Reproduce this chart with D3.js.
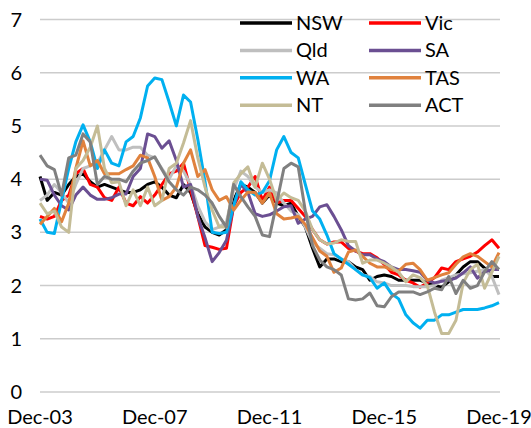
<!DOCTYPE html>
<html>
<head>
<meta charset="utf-8">
<script src="https://cdn.jsdelivr.net/npm/d3@7"></script>
<style>
  body { margin: 0; background: #fff; }
  text { font-family: Lato, "Liberation Sans", sans-serif; fill: #000; }
</style>
</head>
<body>
<svg id="chart" width="531" height="428"></svg>
<script>
// quarterly, Dec-03 .. Dec-19
const quarters = d3.timeMonth.range(new Date(2003, 11, 1), new Date(2020, 0, 1), 3)
const tickLabels = ['Dec-03', 'Dec-07', 'Dec-11', 'Dec-15', 'Dec-19']
const yTicks = [0, 1, 2, 3, 4, 5, 6, 7]

const NSW = [4.05, 3.6, 3.75, 3.7, 3.9, 4.05, 4.1, 3.95, 3.85, 3.9, 3.85, 3.8, 3.75, 3.75, 3.8, 3.9, 3.95, 3.85, 3.7, 3.65, 3.9, 3.75, 3.35, 3.1, 3.0, 2.95, 3.05, 3.6, 3.9, 3.85, 3.75, 3.55, 3.7, 3.55, 3.5, 3.55, 3.3, 3.1, 2.7, 2.35, 2.5, 2.5, 2.45, 2.45, 2.35, 2.3, 2.1, 2.17, 2.2, 2.17, 2.1, 2.1, 2.1, 2.1, 2.05, 2.0, 1.97, 2.07, 2.2, 2.35, 2.45, 2.45, 2.33, 2.17, 2.17]
const Vic = [3.3, 3.25, 3.3, 3.6, 3.7, 4.1, 4.2, 3.9, 3.85, 3.65, 3.6, 3.85, 3.55, 3.5, 3.67, 3.55, 3.7, 3.9, 4.1, 4.15, 4.3, 3.8, 3.3, 2.75, 2.72, 2.68, 2.7, 3.5, 3.75, 3.85, 4.05, 3.6, 3.85, 3.55, 3.6, 3.6, 3.45, 3.3, 3.05, 2.86, 2.78, 2.82, 2.82, 2.7, 2.65, 2.6, 2.6, 2.52, 2.4, 2.25, 2.2, 2.1, 2.05, 1.97, 2.05, 2.15, 2.33, 2.3, 2.45, 2.5, 2.55, 2.63, 2.75, 2.86, 2.7]
const Qld = [3.6, 3.7, 3.9, 3.75, 3.55, 3.9, 4.2, 4.25, 4.3, 4.55, 4.8, 4.55, 4.55, 4.6, 4.6, 4.45, 4.4, 4.2, 4.0, 4.25, 4.15, 3.9, 3.5, 3.2, 3.05, 3.1, 3.2, 3.8, 4.15, 4.05, 3.85, 3.75, 3.8, 3.74, 3.55, 3.4, 3.33, 3.1, 2.8, 2.7, 2.6, 2.58, 2.5, 2.45, 2.3, 2.2, 2.17, 2.07, 2.05, 2.0, 2.0, 2.0, 1.98, 1.98, 1.98, 2.0, 2.1, 2.15, 2.2, 2.22, 2.24, 2.27, 2.3, 2.17, 1.83]
const SA = [4.0, 3.98, 3.7, 3.5, 3.42, 3.7, 3.85, 3.7, 3.62, 3.62, 3.65, 3.72, 3.72, 4.05, 4.2, 4.85, 4.8, 4.58, 4.72, 4.35, 3.85, 3.9, 3.3, 2.9, 2.45, 2.62, 2.85, 3.5, 3.9, 3.75, 3.35, 3.3, 3.33, 3.4, 3.48, 3.5, 3.17, 3.25, 3.3, 3.48, 3.52, 3.3, 3.05, 2.75, 2.65, 2.58, 2.58, 2.5, 2.45, 2.35, 2.3, 2.3, 2.28, 2.25, 2.1, 2.05, 2.08, 2.1, 2.14, 2.24, 2.35, 2.14, 2.26, 2.3, 2.3]
const WA = [3.25, 3.0, 2.98, 3.6, 4.2, 4.7, 5.02, 4.7, 4.2, 4.55, 4.3, 4.25, 4.7, 4.8, 5.15, 5.75, 5.9, 5.87, 5.45, 5.0, 5.58, 5.45, 4.75, 3.95, 3.0, 2.98, 3.0, 3.5, 3.95, 3.8, 3.7, 3.75, 3.97, 4.55, 4.8, 4.5, 4.4, 3.9, 3.4, 3.25, 2.95, 2.6, 2.5, 2.4, 2.3, 2.2, 2.15, 1.95, 2.05, 1.85, 1.75, 1.45, 1.3, 1.2, 1.35, 1.35, 1.45, 1.45, 1.5, 1.55, 1.55, 1.55, 1.58, 1.62, 1.68]
const TAS = [3.15, 3.3, 3.45, 3.2, 3.55, 4.2, 4.72, 4.25, 4.35, 4.1, 4.1, 4.1, 4.18, 4.25, 4.45, 4.4, 4.05, 3.6, 3.67, 3.85, 4.3, 4.55, 4.05, 4.18, 3.8, 3.6, 3.67, 3.42, 3.6, 3.76, 3.75, 3.55, 3.74, 3.35, 3.25, 3.27, 3.3, 3.15, 2.9, 2.65, 2.55, 2.25, 2.33, 2.63, 2.67, 2.55, 2.42, 2.35, 2.35, 2.3, 2.27, 2.4, 2.42, 2.3, 2.1, 2.15, 2.2, 2.24, 2.4, 2.54, 2.6, 2.55, 2.45, 2.35, 2.62]
const NT = [3.55, 3.35, 3.4, 3.1, 3.0, 4.2, 4.35, 4.6, 5.0, 4.2, 3.93, 3.95, 3.5, 3.8, 3.5, 3.85, 3.5, 3.6, 4.2, 4.3, 4.68, 5.1, 4.4, 3.85, 3.42, 3.1, 3.1, 3.93, 4.1, 4.23, 3.85, 4.3, 4.0, 3.6, 3.74, 3.65, 3.6, 3.4, 3.05, 2.86, 2.78, 2.8, 2.86, 2.83, 2.83, 2.42, 2.48, 2.48, 2.42, 2.35, 2.25, 2.07, 2.2, 2.15, 2.0, 1.5, 1.1, 1.1, 1.35, 2.05, 2.3, 2.4, 1.95, 2.25, 2.55]
const ACT = [4.45, 4.25, 4.18, 3.7, 4.4, 4.45, 4.85, 4.7, 3.9, 4.05, 4.0, 4.0, 3.95, 4.15, 4.3, 4.35, 4.42, 4.18, 3.95, 3.8, 3.7, 3.85, 3.8, 3.7, 3.55, 3.3, 3.1, 3.9, 3.67, 3.48, 3.3, 2.95, 2.92, 3.55, 4.2, 4.3, 4.23, 3.4, 2.75, 2.48, 2.35, 2.3, 2.2, 1.75, 1.73, 1.75, 1.86, 1.62, 1.6, 1.79, 1.88, 1.88, 1.88, 1.83, 1.88, 1.95, 1.92, 2.17, 1.85, 2.1, 1.95, 2.0, 2.26, 2.45, 2.3]

const seriesNames = ['NSW', 'Vic', 'Qld', 'SA', 'WA', 'TAS', 'NT', 'ACT']
const seriesValues = [NSW, Vic, Qld, SA, WA, TAS, NT, ACT]
const seriesColors = ['#000000', '#ff0000', '#bfbfbf', '#6b4f92', '#00b0f0', '#e0823d', '#c4bc96', '#808080']

const svg = d3.select('#chart')
const x = d3.scaleTime().domain([quarters[0], quarters[quarters.length - 1]]).range([40, 499])
const y = d3.scaleLinear().domain([0, 7]).range([392, 19.5])

// grid
svg.append('g').selectAll('line').data(yTicks).join('line')
	.attr('x1', 40).attr('x2', 500)
	.attr('y1', d => y(d)).attr('y2', d => y(d))
	.attr('stroke', '#cccccc').attr('stroke-width', 1.5)

// y labels
svg.append('g').selectAll('text').data(yTicks).join('text')
	.attr('x', 22).attr('y', d => y(d)).attr('dy', '0.35em')
	.attr('text-anchor', 'end').attr('font-size', 20)
	.text(d => d)

// x labels
const tickDates = tickLabels.map(s => d3.timeParse('%b-%y')(s))
svg.append('g').selectAll('text').data(tickLabels).join('text')
	.attr('x', (d, i) => x(tickDates[i])).attr('y', 424)
	.attr('text-anchor', 'middle').attr('font-size', 20)
	.text(d => d)

// lines
const line = d3.line().x((d, i) => x(quarters[i])).y(d => y(d))
svg.append('g').selectAll('path').data(seriesValues).join('path')
	.attr('d', d => line(d))
	.attr('fill', 'none')
	.attr('stroke', (d, i) => seriesColors[i])
	.attr('stroke-width', 3)
	.attr('stroke-linejoin', 'round')

// legend
const leg = svg.append('g').selectAll('g').data(seriesNames).join('g')
	.attr('transform', (d, i) => `translate(${i % 2 ? 369 : 240},${23 + Math.floor(i / 2) * 27.4})`)
leg.append('line').attr('x1', 0).attr('x2', 52)
	.attr('stroke', (d, i) => seriesColors[i]).attr('stroke-width', 3.5)
leg.append('text').attr('x', 56).attr('dy', '0.35em').attr('font-size', 20)
	.text(d => d)
</script>
</body>
</html>
